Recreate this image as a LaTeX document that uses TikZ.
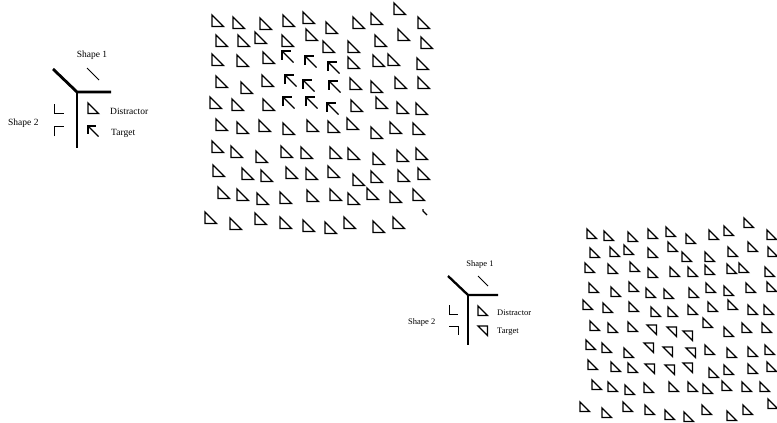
\documentclass[tikz,border=0pt]{standalone}
\usepackage{fontspec}
\setmainfont{Liberation Serif}
\usetikzlibrary{positioning}
\tikzset{
  tri/.style={line width=1.3pt},
  thinpart/.style={line width=0.8pt},
  legline/.style={line width=2.8pt},
  legline2/.style={line width=2.3pt},
  pics/distr/.style={code={\draw[tri] (0,0) -- (0,1) -- (1,1) -- cycle;}},
  pics/targa/.style={code={\draw[tri] (0.75,0) -- (0,0) -- (0,0.75); \draw[tri] (0,0) -- (1,1);}},
  pics/targb/.style={code={\draw[tri] (0,0) -- (1,0) -- (1,1) -- cycle;}},
  lbla/.style={font=\fontsize{9.5}{10}\selectfont,inner sep=0pt},
  lblb/.style={font=\fontsize{8.5}{9}\selectfont,inner sep=0pt}
}
\begin{document}
\begin{tikzpicture}[x=1pt,y=-1pt]
  \useasboundingbox (0,0) rectangle (777,423);

  \node[lbla] (s1a) at (92,55) {Shape 1};
  \node[lbla, anchor=west] (s2a) at (8,123) {Shape 2};
  \node[lbla, anchor=west] (dla) at (110,111) {Distractor};
  \node[lbla, anchor=west] (tla) at (111,133) {Target};
  \draw[legline] (53,69) -- (77,92) -- (111,92);
  \draw[legline] (77,92) -- (77,148);
  \draw[thinpart] (87,68) -- (99,80);
  \draw[thinpart] (54,104) -- (54,113) -- (64,113);
  \draw[thinpart] (54,136) -- (54,126) -- (64,126);
  \pic[scale=10.5] at (88,103) {distr};
  \pic[scale=10.5] at (88,126) {targa};

  \foreach \x/\y in {212/15,233/17,260/18,283/15,303/12,326/22,353/17,371/13,394/3,418/17,
    216/35,238/35,255/32,282/35,306/29,323/41,348/41,375/35,398/29,421/37,
    212/54,237/55,263/52,348/57,373/55,388/54,417/58,
    216/76,241/82,262/75,350/78,371/81,395/77,418/77,
    210/97,232/99,263/99,351/100,376/97,397/102,416/103,
    216/119,237/122,259/120,283/123,307/120,328/121,347/118,371/127,390/122,413/123,
    212/141,231/146,256/151,281/146,301/147,330/147,348/148,373/153,397/150,416/148,
    213/165,242/168,261/170,286/167,306/168,328/166,353/174,371/171,398/170,418/168,
    218/187,237/189,257/193,280/192,307/190,330/189,348/193,367/188,390/191,413/189,
    205/212,230/218,255/213,280/217,303/220,325/222,344/217,373/221,393/217}
    \pic[scale=11.5] at (\x,\y) {distr};
  \foreach \x/\y in {282/51,305/56,328/62,285/75,303/80,329/81,283/97,306/97,327/103}
    \pic[scale=11.5] at (\x,\y) {targa};
  \draw[tri] (423,209) -- (423,211) -- (427,215);

  \node[lblb] (s1b) at (480,264) {Shape 1};
  \node[lblb, anchor=west] (s2b) at (408,322) {Shape 2};
  \node[lblb, anchor=west] (dlb) at (497,313) {Distractor};
  \node[lblb, anchor=west] (tlb) at (497,332) {Target};
  \draw[legline2] (448,276) -- (468,295) -- (498,295);
  \draw[legline2] (468,295) -- (468,345);
  \draw[thinpart] (478,276) -- (488,286);
  \draw[thinpart] (449,305) -- (449,314) -- (458,314);
  \draw[thinpart] (449,326) -- (458,326) -- (458,335);
  \pic[scale=9.5] at (478,306) {distr};
  \pic[scale=9.5] at (478,326) {targb};

  \foreach \x/\y in {587/229,604/231,628/232,648/229,666/227,686/234,709/230,724/226,744/218,767/230,
    590/248,610/247,624/245,648/248,668/242,682/252,705/252,728/247,748/242,768/247,
    585/263,608/264,630/262,648/268,670/267,688/267,705/265,727/264,739/263,765/267,
    589/283,611/287,629/282,646/288,664/289,689/288,706/283,724/286,746/283,767/282,
    583/300,603/303,629/302,651/307,668/307,688/305,708/302,728/300,748/305,764/305,
    590/321,608/323,628/322,703/318,724/327,742/323,762/323,
    586/340,602/343,624/348,705/345,727/348,748/347,765/345,
    588/360,611/362,628/363,709/368,724/365,748/364,767/362,
    592/380,608/382,625/385,644/383,669/382,688/382,703/384,722/381,742/382,760/382,
    580/402,602/408,623/402,645/405,665/410,684/412,702/405,727/411,743/405,768/399}
    \pic[scale=9.5] at (\x,\y) {distr};
  \foreach \x/\y in {647/325,667/327,683/331,644/343,663/347,686/348,645/364,665/365,683/363}
    \pic[scale=9.5] at (\x,\y) {targb};
\end{tikzpicture}
\end{document}
